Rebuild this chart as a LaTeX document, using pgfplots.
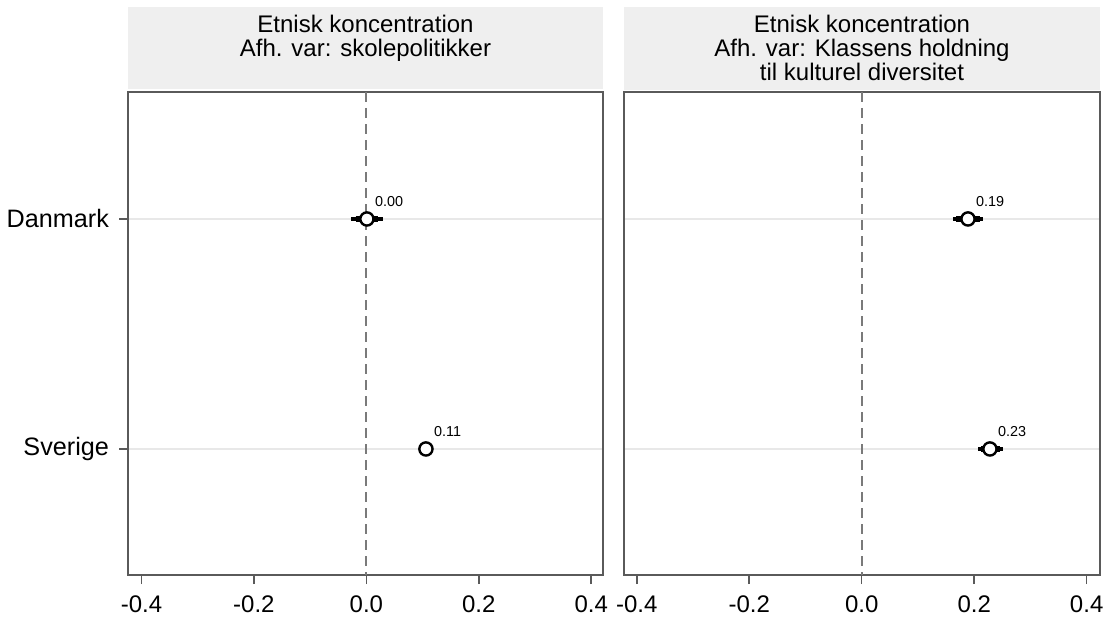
\documentclass[border=0pt]{standalone}
\usepackage{fontspec}
\setmainfont{Liberation Sans}
\usepackage{pgfplots}
\pgfplotsset{compat=1.18}
\definecolor{band}{HTML}{EFEFEF}
\definecolor{framec}{HTML}{5A5A5A}
\definecolor{gridc}{HTML}{E8E8E8}
\definecolor{refc}{HTML}{7A7A7A}
\pgfplotsset{
  panel/.style={
    scale only axis, height=241.5pt,
    ymin=0.448, ymax=2.548, y dir=reverse,
    xtick={-0.4,-0.2,0,0.2,0.4}, xticklabels={-0.4,-0.2,0.0,0.2,0.4},
    ytick={1,2},
    tick align=outside, major tick length=4.5pt,
    xtick pos=lower, ytick pos=left,
    tick style={framec, line width=0.8pt},
    axis line style={framec, line width=0.9pt},
    ymajorgrids, grid style={gridc, line width=0.6pt},
    ticklabel style={font=\fontsize{12}{14}\selectfont},
    xticklabel style={yshift=-2.5pt},
    clip=false,
  },
  ci/.style={black, line width=#1, line cap=butt, forget plot},
  est/.style={only marks, mark=*, mark size=3.3pt,
    mark options={fill=white, draw=black, line width=1.2pt},
    nodes near coords, point meta=explicit symbolic,
    every node near coord/.style={anchor=base west, inner sep=0pt, xshift=3.5pt, yshift=6pt,
      font=\fontsize{7.2}{8}\selectfont, black}},
  refline/.style={refc, line width=1pt, dash pattern=on 5pt off 3pt, forget plot},
}
\begin{document}
\begin{tikzpicture}
\path[use as bounding box] (0,0) rectangle (554pt,-309.5pt);
% left panel
\begin{axis}[panel, at={(64pt,-46pt)}, anchor=north west, width=237.5pt,
  xmin=-0.424, xmax=0.421,
  yticklabels={Danmark,Sverige},
  yticklabel style={xshift=-1.5pt, font=\fontsize{12.6}{14}\selectfont}]
  \fill[band] ([yshift=1.5pt]axis description cs:0,1) rectangle ([yshift=42.5pt]axis description cs:1,1);
  \node[anchor=north, align=center, inner sep=0pt, font=\fontsize{12}{12}\selectfont]
    at ([yshift=38.5pt]axis description cs:0.5,1) {Etnisk koncentration\\Afh. var: skolepolitikker};
  \addplot[refline] coordinates {(0,0.448) (0,2.548)};
  \addplot[ci=2pt] coordinates {(-0.027,1) (0.030,1)};
  \addplot[ci=3pt] coordinates {(-0.019,1) (0.021,1)};
  \addplot[ci=2pt] coordinates {(0.096,2) (0.116,2)};
  \addplot[est] coordinates {(0.001,1) [0.00] (0.106,2) [0.11]};
\end{axis}
% right panel
\begin{axis}[panel, at={(312pt,-46pt)}, anchor=north west, width=238pt,
  xmin=-0.4226, xmax=0.4237,
  yticklabels={}, ytick style={draw=none}]
  \fill[band] ([yshift=1pt]axis description cs:0,1) rectangle ([yshift=42.5pt]axis description cs:1,1);
  \node[anchor=north, align=center, inner sep=0pt, font=\fontsize{12}{12}\selectfont]
    at ([yshift=38.5pt]axis description cs:0.5,1) {Etnisk koncentration\\Afh. var: Klassens holdning\\til kulturel diversitet};
  \addplot[refline] coordinates {(0,0.448) (0,2.548)};
  \addplot[ci=2pt] coordinates {(0.162,1) (0.215,1)};
  \addplot[ci=3pt] coordinates {(0.168,1) (0.210,1)};
  \addplot[ci=2pt] coordinates {(0.207,2) (0.251,2)};
  \addplot[ci=3pt] coordinates {(0.212,2) (0.246,2)};
  \addplot[est] coordinates {(0.189,1) [0.19] (0.228,2) [0.23]};
\end{axis}
\end{tikzpicture}
\end{document}
